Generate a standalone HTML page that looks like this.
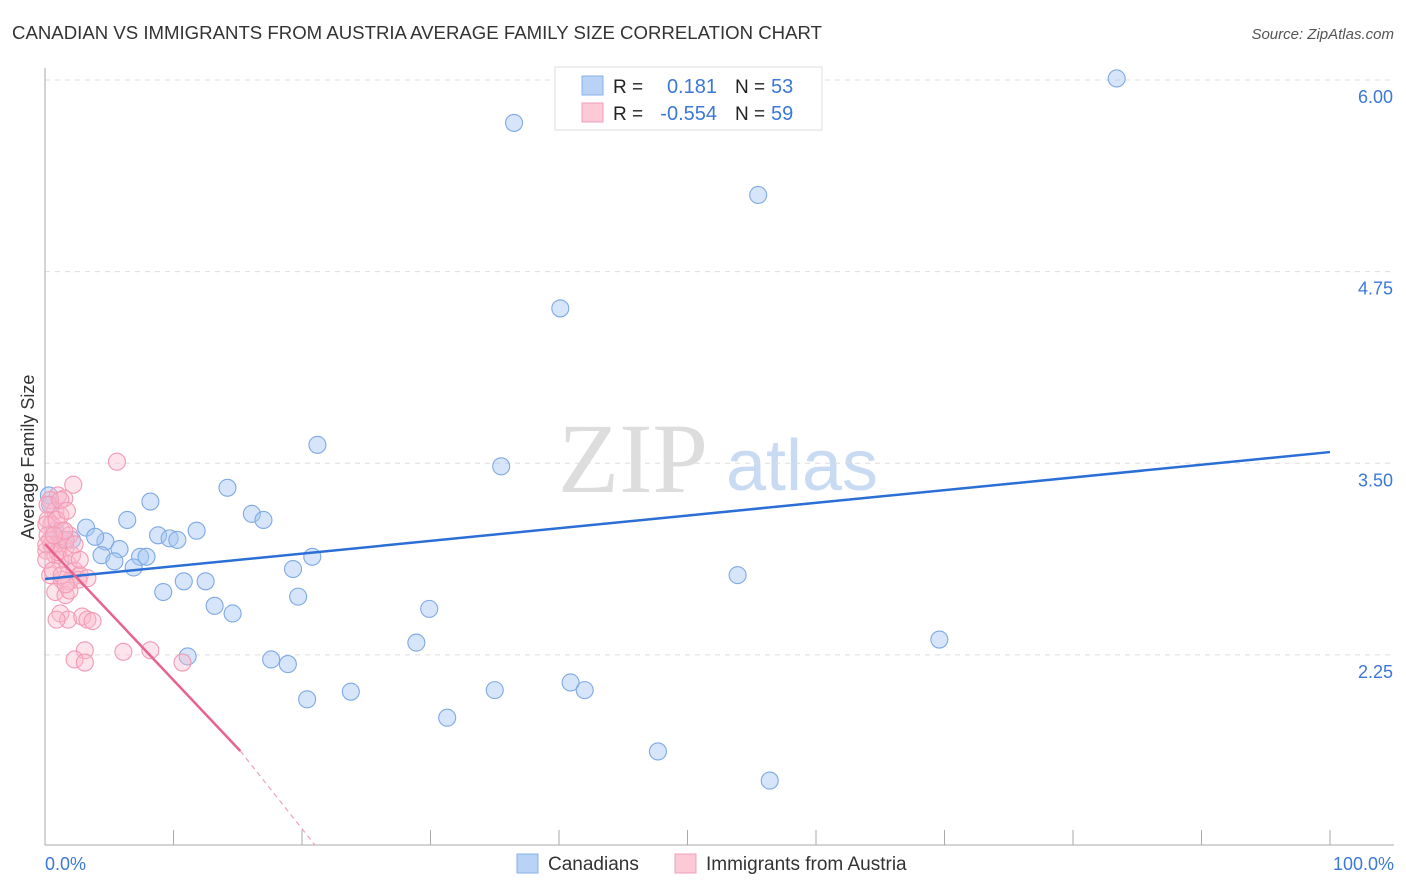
<!DOCTYPE html>
<html><head><meta charset="utf-8">
<style>
body{margin:0;background:#fff;font-family:"Liberation Sans",sans-serif;}
svg{display:block}
</style></head><body>
<svg id="chart" width="1406" height="892" xmlns="http://www.w3.org/2000/svg">
<text x="12" y="39" font-size="18" fill="#333" textLength="810" lengthAdjust="spacingAndGlyphs">CANADIAN VS IMMIGRANTS FROM AUSTRIA AVERAGE FAMILY SIZE CORRELATION CHART</text>
<text x="1394" y="39" font-size="15" fill="#555" font-style="italic" text-anchor="end">Source: ZipAtlas.com</text>
<g>
<text x="633" y="492" font-size="100" fill="#ddd" font-family="Liberation Serif,serif" text-anchor="middle">ZIP</text>
<text x="802" y="490" font-size="72" fill="#c9daf3" text-anchor="middle">atlas</text>
</g>
<g id="grid"></g>
<g id="axes"></g>
<g id="marks"></g>
<text transform="translate(34,457) rotate(-90)" font-size="18" fill="#333" text-anchor="middle">Average Family Size</text>
<text x="45" y="870" font-size="18" fill="#3b78d8">0.0%</text>
<text x="1394" y="870" font-size="18" fill="#3b78d8" text-anchor="end">100.0%</text>
<g>
<rect x="555" y="67" width="267" height="63" fill="#fff" stroke="#ddd"/>
<rect x="582" y="76" width="21" height="19" fill="#b9d3f6" stroke="#88b0ea"/>
<rect x="582" y="103" width="21" height="19" fill="#fcc9d7" stroke="#f2a0b8"/>
<text x="613" y="93" font-size="19" fill="#222">R =</text>
<text x="717" y="93" font-size="20" fill="#3b78d8" text-anchor="end">0.181</text>
<text x="735" y="93" font-size="19" fill="#222">N =</text>
<text x="771" y="93" font-size="20" fill="#3b78d8">53</text>
<text x="613" y="120" font-size="19" fill="#222">R =</text>
<text x="717" y="120" font-size="20" fill="#3b78d8" text-anchor="end">-0.554</text>
<text x="735" y="120" font-size="19" fill="#222">N =</text>
<text x="771" y="120" font-size="20" fill="#3b78d8">59</text>
</g>
<g>
<rect x="517" y="854" width="21" height="19" fill="#b9d3f6" stroke="#88b0ea"/>
<text x="548" y="870" font-size="19" fill="#333">Canadians</text>
<rect x="675" y="854" width="21" height="19" fill="#fcc9d7" stroke="#f2a0b8"/>
<text x="706" y="870" font-size="19" fill="#333">Immigrants from Austria</text>
</g>
</svg>
<script>
const yTicks=[6.00,4.75,3.50,2.25];
const xTicks=[0,10,20,30,40,50,60,70,80,90,100];
const blueX=[83.4,36.5,55.5,40.1,21.2,35.5,14.2,8.2,16.1,6.4,17.0,3.2,11.8,8.8,9.7,10.3,4.7,3.9,2.1,5.8,7.4,4.4,7.9,20.8,5.4,6.9,19.3,53.9,10.8,12.5,9.2,19.7,13.2,29.9,14.6,28.9,69.6,11.1,17.6,18.9,23.8,35.0,20.4,40.9,42.0,31.3,47.7,56.4,0.3,0.4,0.8,1.2,1.6];
const blueY=[6.01,5.72,5.25,4.51,3.62,3.48,3.34,3.25,3.17,3.13,3.13,3.08,3.06,3.03,3.01,3.00,2.99,3.02,3.00,2.94,2.89,2.90,2.89,2.89,2.86,2.82,2.81,2.77,2.73,2.73,2.66,2.63,2.57,2.55,2.52,2.33,2.35,2.24,2.22,2.19,2.01,2.02,1.96,2.07,2.02,1.84,1.62,1.43,3.29,3.23,3.06,3.00,3.00];
const pinkX=[5.6,2.2,1.0,1.5,0.4,0.8,1.2,0.2,0.5,1.3,1.9,0.4,0.9,1.6,0.1,0.8,1.2,1.8,2.3,2.7,0.4,1.3,1.9,2.6,0.8,1.6,1.2,1.8,2.9,3.3,3.7,0.9,3.1,2.3,3.1,6.1,8.2,10.7,0.1,0.2,0.5,1.0,1.6,2.1,2.7,0.1,0.6,1.3,1.9,0.2,0.9,1.5,0.1,1.2,1.7,0.7,2.3,3.3,1.6];
const pinkY=[3.51,3.36,3.29,3.27,3.26,3.19,3.16,3.13,3.10,3.06,3.03,3.00,2.97,2.95,2.93,2.90,2.87,2.84,2.80,2.77,2.77,2.74,2.73,2.74,2.66,2.64,2.52,2.48,2.50,2.48,2.47,2.48,2.28,2.22,2.20,2.27,2.28,2.20,3.10,3.03,2.97,2.92,3.00,2.90,2.87,2.87,2.80,2.77,2.67,3.23,3.13,3.06,2.97,3.26,3.19,3.03,2.97,2.75,2.71];
const blueTrend=[0,2.745,100,3.573];
const pinkTrend=[0,2.973,15.2,1.623,21.0,1.01];
const NS='http://www.w3.org/2000/svg';
const sx=v=>45+v*12.85;
const sy=v=>80+(6-v)*153.3;
function mk(tag,attrs,parent){const e=document.createElementNS(NS,tag);for(const k in attrs)e.setAttribute(k,attrs[k]);parent.appendChild(e);return e;}
const grid=document.getElementById('grid'),axes=document.getElementById('axes'),marks=document.getElementById('marks');
yTicks.forEach(t=>{
 const l=mk('line',{x1:45,x2:1394,y1:sy(t),y2:sy(t),stroke:'#ddd','stroke-dasharray':'5,5'},grid);
 
 
 const tx=mk('text',{x:1393,y:sy(t)+23,'font-size':18,fill:'#3b78d8','text-anchor':'end'},axes);
 tx.textContent=t.toFixed(2);
 
 
});
let a=mk('line',{x1:45,x2:45,y1:68,y2:845,stroke:'#aaa'},axes);


a=mk('line',{x1:45,x2:1394,y1:845,y2:845,stroke:'#aaa'},axes);


xTicks.forEach(t=>{
 const l=mk('line',{x1:sx(t),x2:sx(t),y1:830,y2:845,stroke:'#aaa'},axes);
 
 
});
blueX.forEach((x,i)=>{
 const c=mk('circle',{cx:sx(x),cy:sy(blueY[i]),r:8.5,fill:'rgba(165,198,242,0.45)',stroke:'#7fa9e4','stroke-width':1.1},marks);
 
 
});
pinkX.forEach((x,i)=>{
 const c=mk('circle',{cx:sx(x),cy:sy(pinkY[i]),r:8.5,fill:'rgba(250,185,205,0.4)',stroke:'#f29ab4','stroke-width':1.1},marks);
 
 
});
let t=mk('line',{x1:sx(blueTrend[0]),y1:sy(blueTrend[1]),x2:sx(blueTrend[2]),y2:sy(blueTrend[3]),stroke:'#2b6fd6','stroke-width':2.5},marks);


t=mk('line',{x1:sx(pinkTrend[0]),y1:sy(pinkTrend[1]),x2:sx(pinkTrend[2]),y2:sy(pinkTrend[3]),stroke:'#e8628e','stroke-width':2.5},marks);


t=mk('line',{x1:sx(pinkTrend[2]),y1:sy(pinkTrend[3]),x2:sx(pinkTrend[4]),y2:sy(pinkTrend[5]),stroke:'#f0a0b8','stroke-width':1.2,'stroke-dasharray':'5,4'},marks);


</script>
</body></html>
